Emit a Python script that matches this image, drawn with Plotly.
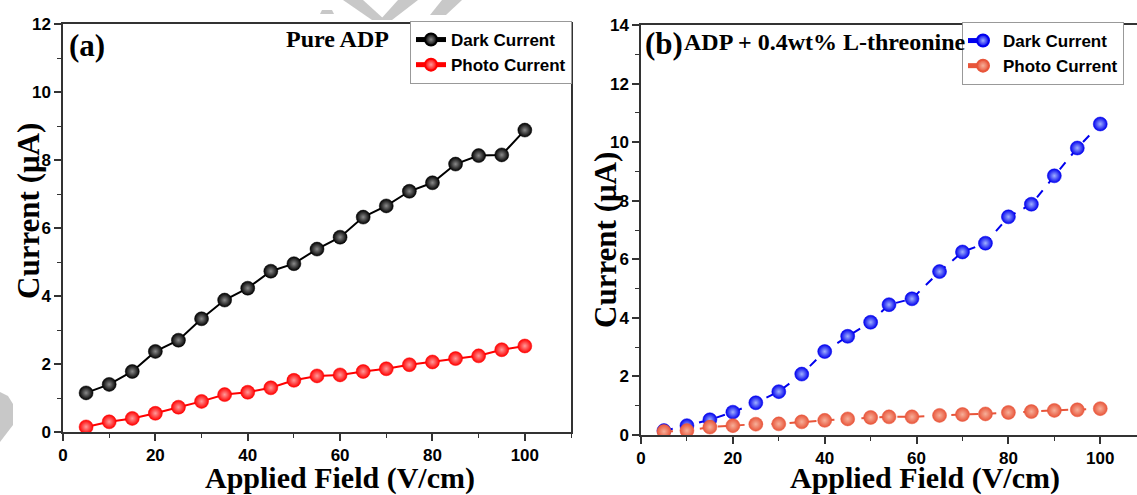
import plotly.graph_objects as go

# ---------------- data ----------------
field_a = [5, 10, 15, 20, 25, 30, 35, 40, 45, 50, 55, 60, 65, 70, 75, 80, 85, 90, 95, 100]
dark_a = [1.15, 1.40, 1.78, 2.37, 2.70, 3.33, 3.88, 4.23, 4.73, 4.95, 5.38, 5.73,
          6.32, 6.65, 7.08, 7.33, 7.88, 8.13, 8.15, 8.88]
photo_a = [0.15, 0.30, 0.40, 0.55, 0.73, 0.90, 1.10, 1.17, 1.30, 1.52, 1.65, 1.68,
           1.78, 1.86, 1.98, 2.06, 2.16, 2.24, 2.42, 2.53]

field_b = [5, 10, 15, 20, 25, 30, 35, 40, 45, 50, 54, 59, 65, 70, 75, 80, 85, 90, 95, 100]
dark_b = [0.15, 0.32, 0.52, 0.78, 1.10, 1.48, 2.08, 2.85, 3.37, 3.85, 4.45, 4.65,
          5.58, 6.25, 6.55, 7.45, 7.88, 8.85, 9.80, 10.62]
photo_b = [0.12, 0.15, 0.27, 0.32, 0.37, 0.38, 0.45, 0.50, 0.55, 0.60, 0.62, 0.62,
           0.67, 0.70, 0.72, 0.77, 0.80, 0.84, 0.86, 0.90]

series_names = ["Dark Current", "Photo Current"]
label_a = "Pure ADP"
label_b = "ADP + 0.4wt% L-threonine"
x_title = "Applied Field (V/cm)"
y_title = "Current (μA)"

W, H = 1137, 495
def px(x):
    return x / W
def py(y):
    return 1 - y / H

SERIF = "Liberation Serif, Times New Roman, serif"
SANS = "Liberation Sans, Arial, sans-serif"

fig = go.Figure()

def add(xv, yv, name, color, hl, dash, xa, ya, legend):
    fig.add_trace(go.Scatter(
        x=xv, y=yv, name=name, mode="lines+markers",
        xaxis=xa, yaxis=ya, legend=legend,
        line=dict(color=color, width=2, dash=dash),
        marker=dict(size=14, color=color, line=dict(width=0.5, color=color),
                    gradient=dict(type="radial", color=hl)),
    ))

add(field_a, dark_a, series_names[0], "#000000", "#8a8a8a", "solid", "x", "y", "legend")
add(field_a, photo_a, series_names[1], "#ff0000", "#ff9a9a", "solid", "x", "y", "legend")
add(field_b, dark_b, series_names[0], "#0000ee", "#9fb0ff", "dash", "x2", "y2", "legend2")
add(field_b, photo_b, series_names[1], "#e8553a", "#f7b09a", "dash", "x2", "y2", "legend2")

axis_common = dict(
    showline=True, linecolor="#333333", linewidth=1.5,
    ticks="outside", ticklen=7, tickwidth=1.5, tickcolor="#333333",
    showgrid=False, zeroline=False, automargin=False,
    tickfont=dict(family=SANS, size=17, color="#000000", weight="bold"),
)
minor_common = dict(ticks="outside", ticklen=4, tickwidth=1.2, tickcolor="#333333")

legend_common = dict(
    bgcolor="white", bordercolor="#999999", borderwidth=1,
    font=dict(family=SANS, size=17, color="#000000", weight="bold"),
    tracegroupgap=0, itemsizing="constant",
)

fig.update_layout(
    width=W, height=H,
    margin=dict(l=0, r=0, t=0, b=0, autoexpand=False),
    paper_bgcolor="white", plot_bgcolor="white",
    xaxis=dict(domain=[px(63), px(571)], range=[0, 110], dtick=20, anchor="y",
               mirror=True, minor=dict(dtick=10, **minor_common), **axis_common),
    yaxis=dict(domain=[py(432), py(24)], range=[0, 12], dtick=2, anchor="x",
               mirror=True, minor=dict(dtick=1, **minor_common), **axis_common),
    xaxis2=dict(domain=[px(641), 1.0], range=[0, 108], dtick=20, anchor="y2",
                mirror=True, minor=dict(dtick=10, **minor_common), **axis_common),
    yaxis2=dict(domain=[py(435), py(25)], range=[0, 14], dtick=2, anchor="x2",
                mirror=False, minor=dict(dtick=1, **minor_common), **axis_common),
    legend=dict(x=px(572), xanchor="right", y=py(21), yanchor="top", **legend_common),
    legend2=dict(x=px(962), xanchor="left", y=py(22), yanchor="top", **legend_common),
    showlegend=True,
)

ann = []
def text(t, x, y, size, xanchor="center", angle=0, family=SERIF):
    ann.append(dict(text=t, x=px(x), y=py(y), xref="paper", yref="paper",
                    xanchor=xanchor, yanchor="middle", showarrow=False, textangle=angle,
                    font=dict(family=family, size=size, color="#000000", weight="bold")))

text("(a)", 67, 45, 31, "left")
text(label_a, 391, 39, 24, "right")
text("(b)", 643, 43, 31, "left")
text(label_b, 682, 42, 24, "left")
text(x_title, 340, 478, 30)
text(x_title, 925, 478, 30)
text(y_title, 28, 211, 31, angle=-90)
text(y_title, 605, 240, 31, angle=-90)
fig.update_layout(annotations=ann)

# watermark fragments (grey) in paper coordinates
def poly(pts):
    path = "M " + " L ".join(f"{px(a)},{py(b)}" for a, b in pts) + " Z"
    return dict(type="path", xref="paper", yref="paper", path=path,
                fillcolor="#c8c8c8", line=dict(width=0), layer="below")

shapes = [
    poly([(322, 10), (332, 10), (334, 14), (320, 14)]),
    poly([(343, 0), (363, 0), (385, 20), (372, 20)]),
    poly([(398, 0), (418, 0), (392, 20), (380, 20)]),
    poly([(442, 0), (462, 0), (446, 15), (430, 15)]),
    poly([(0, 392), (8, 396), (13, 404), (13, 425), (0, 442)]),
]
fig.update_layout(shapes=shapes)

fig.write_html(
    "out.html",
    config={"displayModeBar": False},
    post_script="document.body.style.margin='0';document.body.style.overflow='hidden';",
)
